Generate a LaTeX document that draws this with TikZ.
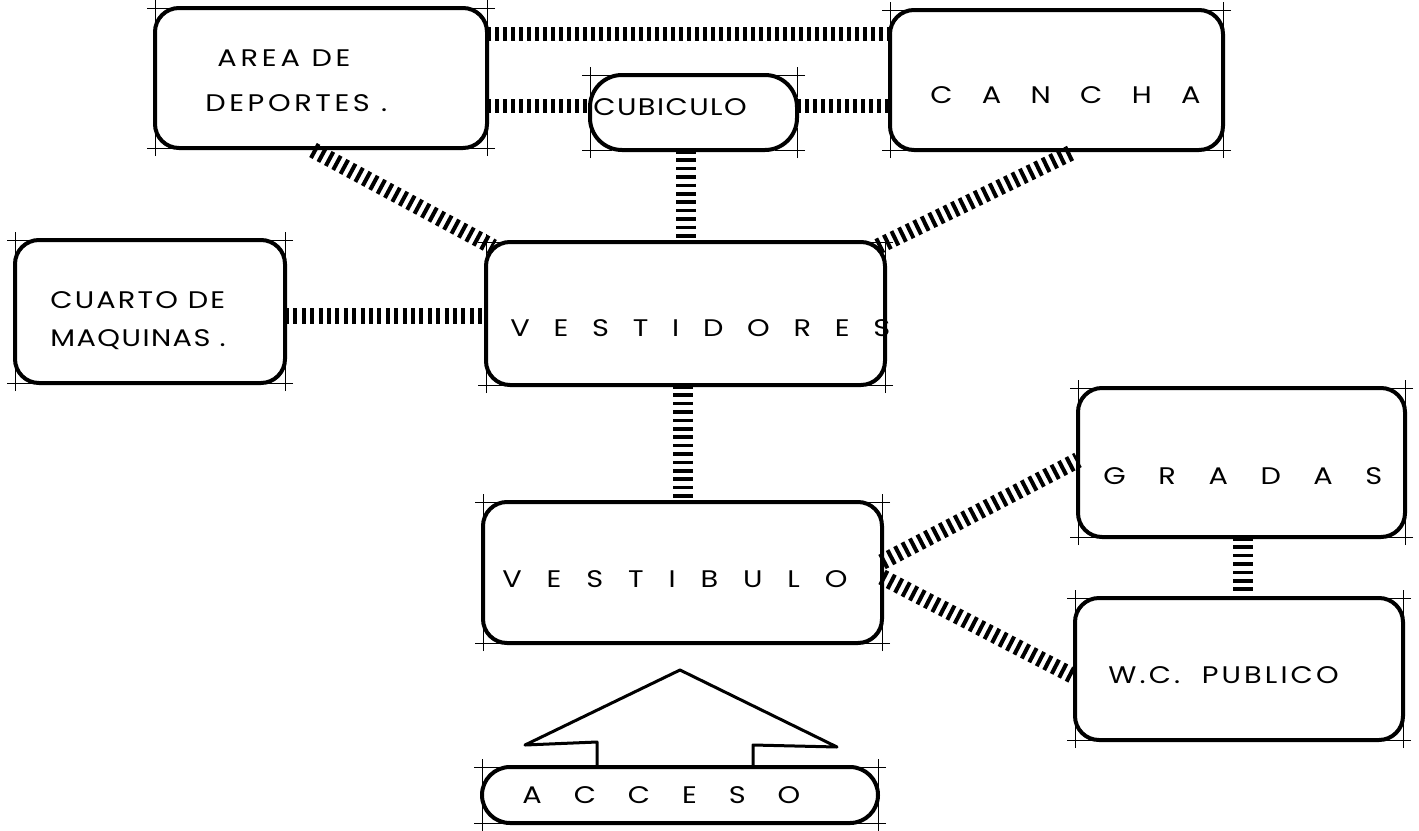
\documentclass[tikz,border=0pt]{standalone}
\usepackage{fontspec}
\setmainfont{Poppins}
\newfontfamily\lfont[FakeStretch=1.2,LetterSpace=6]{Poppins}
\usetikzlibrary{calc}
\newcommand\cropm[1]{%
 \foreach \aa/\sx/\sy in {north west/1/1,north east/-1/1,south west/1/-1,south east/-1/-1}{%
  \draw[cropline] ($(#1.\aa)+(-8*\sx,0)$) -- ($(#1.\aa)+(22*\sx,0)$);
  \draw[cropline] ($(#1.\aa)+(0,-8*\sy)$) -- ($(#1.\aa)+(0,22*\sy)$);
 }}
\newcommand\lsp[1]{\addfontfeature{LetterSpace=#1}}
\begin{document}
\begin{tikzpicture}[x=0.5pt,y=-0.5pt,
 box/.style={draw, line width=2pt, rounded corners=12pt, inner sep=0pt, outer sep=0pt},
 cropline/.style={line width=0.5pt},
 hatch/.style={line width=8pt, dash pattern=on 2pt off 2.2pt},
 hatchh/.style={line width=7pt, dash pattern=on 2pt off 2pt},
 hatchv/.style={line width=10pt, dash pattern=on 1.8pt off 2.4pt},
 lbl/.style={font=\lfont\fontsize{12}{14}\selectfont, inner sep=0pt, anchor=base west, yshift=-4.2pt},
 arrowsh/.style={line width=1.5pt, line join=round}]
\useasboundingbox (0,0) rectangle (1419,830);
\fill[white] (0,0) rectangle (1419,830);

% boxes
\node[box, minimum width=166pt, minimum height=70pt] (area) at (321,78) {};
\node[box, rounded corners=16pt, minimum width=103.5pt, minimum height=37.5pt] (cub) at (693.5,112.5) {};
\node[box, minimum width=166.5pt, minimum height=70pt] (cancha) at (1056.5,80) {};
\node[box, minimum width=135pt, minimum height=71.5pt] (cuarto) at (150,311.5) {};
\node[box, minimum width=199.5pt, minimum height=71.5pt] (vest) at (685.5,313.5) {};
\node[box, minimum width=199.5pt, minimum height=70.5pt] (vb) at (682.5,572.5) {};
\node[box, minimum width=163.5pt, minimum height=74.5pt] (gradas) at (1241.5,462.5) {};
\node[box, minimum width=164pt, minimum height=71pt] (wc) at (1239,669) {};
\node[box, rounded corners=14pt, minimum width=198pt, minimum height=28pt] (acc) at (680,795) {};

% crop marks
\cropm{area}\cropm{cub}\cropm{cancha}\cropm{cuarto}\cropm{vest}
\cropm{vb}\cropm{gradas}\cropm{wc}\cropm{acc}

% connectors
\draw[hatchh] (area.east |- 0,34) -- (cancha.west |- 0,34);
\draw[hatchh] (area.east |- 0,106) -- (cub.west |- 0,106);
\draw[hatchh] (cub.east |- 0,106) -- (cancha.west |- 0,106);
\draw[hatchv] (vest.north |- cub.south) -- (vest.north);
\draw[hatchv] (vb.north |- vest.south) -- (vb.north);
\draw[hatch] ($(area.south)+(-8,2)$) -- ($(vest.north west)+(7,5)$);
\draw[hatch] ($(cancha.south)+(14,3)$) -- ($(vest.north east)+(-8,5)$);
\draw[hatch] (cuarto.east |- 0,316) -- (vest.west |- 0,316);
\draw[hatch] (vb.east |- 0,562) -- (gradas.west |- 0,460);
\draw[hatch] (vb.east |- 0,577) -- (wc.west |- 0,677);
\draw[hatchv] (1243,0 |- gradas.south) -- (1243,0 |- wc.north);

% access arrow
\draw[arrowsh] (597,0 |- acc.north) -- (597,742) -- (525,745) -- (680,670) -- (837,747) -- (753,745) -- (753,0 |- acc.north);

% labels
\node[lbl] (t1) at (217,58) {\lsp{16}AREA DE};
\node[lbl] (t2) at (205,103) {\lsp{15}DEPORTES .};
\node[lbl] (t3) at (593,107) {CUBICULO};
\node[lbl] (t4) at (930,95) {\makebox[135pt][s]{C\hfill A\hfill N\hfill C\hfill H\hfill A}};
\node[lbl] (t5) at (50,300) {\lsp{9}CUARTO DE};
\node[lbl] (t6) at (50,338) {MAQUINAS .};
\node[lbl] (t7) at (510,328) {\makebox[190pt][s]{V\hfill E\hfill S\hfill T\hfill I\hfill D\hfill O\hfill R\hfill E\hfill S}};
\node[lbl] (t8) at (502,579) {\makebox[172.5pt][s]{V\hfill E\hfill S\hfill T\hfill I\hfill B\hfill U\hfill L\hfill O}};
\node[lbl] (t9) at (1103,476) {\makebox[139.5pt][s]{G\hfill R\hfill A\hfill D\hfill A\hfill S}};
\node[lbl] (t10) at (1108,675) {\lsp{13}W.C.\ \ PUBLICO};
\node[lbl] (t11) at (522,795) {\makebox[139pt][s]{A\hfill C\hfill C\hfill E\hfill S\hfill O}};
\end{tikzpicture}
\end{document}
